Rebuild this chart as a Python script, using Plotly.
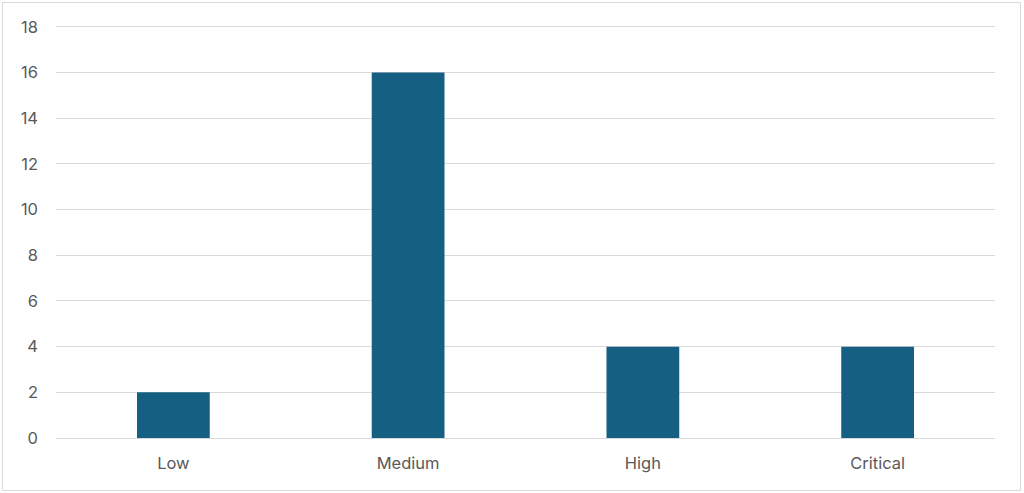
import plotly.graph_objects as go

categories = ["Low", "Medium", "High", "Critical"]
values = [2, 16, 4, 4]
y_ticks = [0, 2, 4, 6, 8, 10, 12, 14, 16, 18]

W, H = 1024, 493
L, R, T, B = 56, 29, 20, 55
pw, ph = W - L - R, H - T - B

def px_x(x):
    return (x - L) / pw

def px_y(y):
    return (H - B - y) / ph

fig = go.Figure(go.Bar(x=categories, y=values, marker=dict(color="#156082", line=dict(width=0))))

fig.update_layout(
    width=W, height=H,
    margin=dict(l=L, r=R, t=T, b=B),
    paper_bgcolor="white", plot_bgcolor="white",
    bargap=0.69,
    showlegend=False,
    font=dict(family="Inter, Roboto, sans-serif", size=16.5, color="#595959"),
    xaxis=dict(showgrid=False, showline=True, linecolor="#d9d9d9", linewidth=1,
               ticks="", ticklabelstandoff=10),
    yaxis=dict(range=[0, 18.3], tickvals=y_ticks, showgrid=True, gridcolor="#d9d9d9",
               gridwidth=1, zeroline=False, showline=False, ticks="",
               ticklabelstandoff=17),
    shapes=[dict(type="rect", xref="paper", yref="paper",
                 x0=px_x(2.5), x1=px_x(1020.5), y0=px_y(490.5), y1=px_y(2.5),
                 line=dict(color="#d9d9d9", width=1), fillcolor="rgba(0,0,0,0)", layer="below")],
)

fig.write_html("out.html", config={"displayModeBar": False},
               post_script="document.body.style.margin='0';document.body.style.overflow='hidden';")
